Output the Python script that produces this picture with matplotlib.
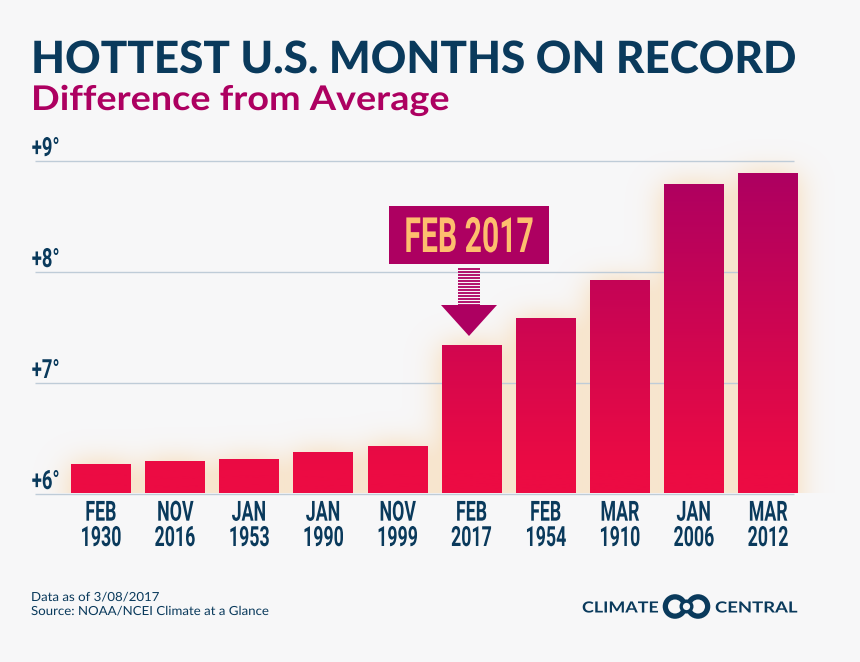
import numpy as np
import matplotlib
matplotlib.use('Agg')
import matplotlib.pyplot as plt
from matplotlib.colors import LinearSegmentedColormap, Normalize
from matplotlib.patches import Rectangle, Circle, Polygon
from matplotlib.patheffects import AbstractPathEffect
from matplotlib.transforms import Affine2D

# Datos
months = ['FEB', 'NOV', 'JAN', 'JAN', 'NOV', 'FEB', 'FEB', 'MAR', 'JAN', 'MAR']
years = ['1930', '2016', '1953', '1990', '1999', '2017', '1954', '1910', '2006', '2012']
anomaly = [6.27, 6.29, 6.31, 6.37, 6.43, 7.34, 7.58, 7.92, 8.79, 8.89]
y_ticks = [6, 7, 8, 9]
y_tick_labels = ['+6°', '+7°', '+8°', '+9°']
highlight = 5

NAVY = '#0A3A5C'
MAGENTA = '#AD0061'
CRIMSON = '#EC0B43'
BG = '#F7F7F8'
W, H = 860, 662


# Estira el texto en horizontal (no hay fuentes condensadas instaladas)
class Stretch(AbstractPathEffect):
    def __init__(self, sx, center=False):
        super().__init__()
        self.sx = sx
        self.center = center

    def draw_path(self, renderer, gc, tpath, affine, rgbFace=None):
        cx = 0
        if self.center:
            e = tpath.get_extents()
            cx = (e.x0 + e.x1) / 2
        m = Affine2D().translate(-cx, 0).scale(self.sx, 1).translate(cx, 0)
        renderer.draw_path(gc, tpath, m + affine, rgbFace)


fig = plt.figure(figsize=(W / 100, H / 100), dpi=100, facecolor=BG)

# Capa en pixeles para textos y logo
over = fig.add_axes([0, 0, 1, 1], zorder=5)
over.set_xlim(0, W)
over.set_ylim(H, 0)
over.axis('off')

# Ejes del grafico (pixeles 31-798 en x, 160.5-493.5 en y)
ax = fig.add_axes([31 / W, 1 - 493.5 / H, 767 / W, 333 / H], zorder=1)
ax.set_facecolor('none')
for s in ax.spines.values():
    s.set_visible(False)
ax.set_xlim(-0.9416, 9.405)
ax.set_ylim(6, 9)
ax.set_xticks([])
ax.set_yticks([])

x = np.arange(len(anomaly))
bar_w = 0.803

# Resplandor alrededor de las barras
gx = np.linspace(-0.9416, 9.9, 700)
gy = np.linspace(5.4, 9.45, 450)
mask = np.zeros((len(gy), len(gx)))
for xi, v in zip(x, anomaly):
    mask[(gy <= v)[:, None] & (np.abs(gx - xi) <= bar_w / 2)[None, :]] = 1
kx = np.arange(-40, 41)
kernel = np.exp(-kx ** 2 / (2 * 13.0 ** 2))
kernel /= kernel.sum()
mask = np.apply_along_axis(lambda c: np.convolve(c, kernel, mode='same'), 0, mask)
mask = np.apply_along_axis(lambda c: np.convolve(c, kernel, mode='same'), 1, mask)
keep = gy >= 6
rgba = np.zeros(mask[keep].shape + (4,))
rgba[..., :3] = matplotlib.colors.to_rgb('#F8DFC0')
rgba[..., 3] = np.clip(mask[keep] * 1.3, 0, 0.75)
ax.imshow(rgba, extent=(gx[0], gx[-1], 6, gy[-1]), origin='lower', aspect='auto',
          clip_on=False, zorder=1, interpolation='bilinear')

# Lineas de la cuadricula
ax.hlines(y_ticks, 0.005, 0.9948, transform=ax.get_yaxis_transform(), color='#BFCCD8',
          lw=1.0, zorder=2, clip_on=False)

# Barras con degradado
cmap = LinearSegmentedColormap.from_list('heat', [CRIMSON, MAGENTA])
norm = Normalize(6.2, 8.89)
bars = ax.bar(x, np.array(anomaly) - 6, bottom=6, width=bar_w, color='none', zorder=3)
grad = np.linspace(6, 9, 300)[:, None]
for b in bars:
    im = ax.imshow(grad, extent=(-1, 10, 6, 9), origin='lower', aspect='auto',
                   cmap=cmap, norm=norm, zorder=3)
    im.set_clip_path(b)
ax.set_xlim(-0.9416, 9.405)
ax.set_ylim(6, 9)

# Etiquetas
squeeze = [Stretch(0.64, center=True)]
for xi, m, yr in zip(x, months, years):
    ax.annotate(f'{m}\n{yr}', (xi, 6), xytext=(0, -52.5), textcoords='offset pixels',
                ha='center', va='baseline', multialignment='center', linespacing=0.92,
                color=NAVY, fontsize=20, family='Roboto', fontweight='bold',
                annotation_clip=False, path_effects=squeeze)
for t, lab in zip(y_ticks, y_tick_labels):
    ax.annotate(lab, (0.001, t), xycoords=ax.get_yaxis_transform(), xytext=(0, 4.5),
                textcoords='offset pixels', ha='left', va='baseline', color=NAVY,
                fontsize=19, family='Roboto', fontweight='bold', annotation_clip=False,
                path_effects=[Stretch(0.7)])

# Titulos
over.text(31, 73, 'HOTTEST U.S. MONTHS ON RECORD', color=NAVY, fontsize=32,
          family='Lato', fontweight='black', va='baseline', path_effects=[Stretch(0.99)])
over.text(31, 110, 'Difference from Average', color=MAGENTA, fontsize=24.5,
          family='Lato', fontweight='bold', va='baseline', path_effects=[Stretch(1.11)])

# Caja y flecha de FEB 2017
over.add_patch(Rectangle((389, 206), 159.5, 58, color=MAGENTA, lw=0))
over.text(469, 252, f'{months[highlight]} {years[highlight]}', color='#FDBE6E', fontsize=35,
          family='Roboto', fontweight='bold', ha='center', va='baseline',
          path_effects=[Stretch(0.62, center=True)])
for yy in np.arange(267.5, 305, 3):
    over.add_patch(Rectangle((458, yy), 22, 2, color=MAGENTA, lw=0, alpha=0.9))
over.add_patch(Polygon([(441, 305), (497, 305), (469, 336)], color=MAGENTA, lw=0))

# Pie
over.text(31, 601, 'Data as of 3/08/2017', color=NAVY, fontsize=9, family='Lato',
          va='baseline', path_effects=[Stretch(1.06)])
over.text(31, 615, 'Source: NOAA/NCEI Climate at a Glance', color=NAVY, fontsize=9,
          family='Lato', va='baseline', path_effects=[Stretch(1.06)])

# Logo
over.text(582, 612.5, 'CLIMATE', color=NAVY, fontsize=11, family='Lato', fontweight='bold',
          va='baseline', path_effects=[Stretch(1.17)])
over.text(715, 612.5, 'CENTRAL', color=NAVY, fontsize=11, family='Lato', fontweight='bold',
          va='baseline', path_effects=[Stretch(1.21)])
for cx in (675, 698):
    over.add_patch(Circle((cx, 606.5), 12.3, fc=NAVY, ec='none'))
    over.add_patch(Circle((cx, 606.5), 7, fc=BG, ec='none'))
over.add_patch(Circle((686.5, 606.5), 7, fc=NAVY, ec='none'))
over.add_patch(Circle((686.5, 606.5), 3.6, fc=BG, ec='none'))

fig.savefig('out.png', dpi=100, facecolor=BG)
